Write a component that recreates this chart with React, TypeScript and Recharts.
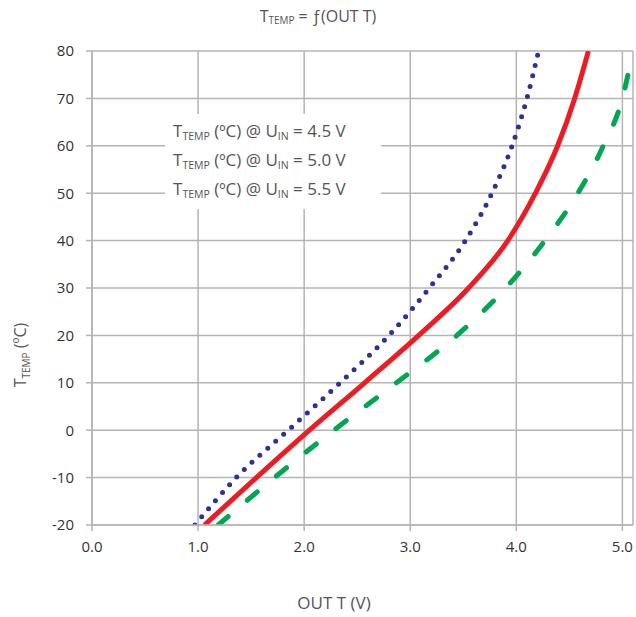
import React from "react";
import {
  LineChart,
  Line,
  XAxis,
  YAxis,
  CartesianGrid,
  Legend,
} from "recharts";

// OUT T voltage (V) at each temperature step
const tempSteps = [-20, -10, 0, 10, 20, 30, 40, 50, 60, 70, 80];
const outT45 = [0.97, 1.36, 1.85, 2.34, 2.8, 3.18, 3.52, 3.77, 3.96, 4.1, 4.21];
const outT50 = [1.06, 1.55, 2.05, 2.57, 3.08, 3.55, 3.92, 4.18, 4.39, 4.55, 4.68];
const outT55 = [1.19, 1.72, 2.28, 2.87, 3.44, 3.9, 4.27, 4.58, 4.82, 5.0, 5.1];

const supplies = ["4.5 V", "5.0 V", "5.5 V"];
const xTicks = [0, 1, 2, 3, 4, 5];
const yTicks = [-20, -10, 0, 10, 20, 30, 40, 50, 60, 70, 80];

const toPoints = (volts: number[]) =>
  volts.map((v, i) => ({ v, t: tempSteps[i] }));

const font = "'Open Sans', 'Noto Sans', sans-serif";
const grid = "#b4b4b4";
const textGrey = "#555";

const sub: React.CSSProperties = {
  fontSize: "0.62em",
  position: "relative",
  top: "0.25em",
  lineHeight: 0,
};

function LegendBox({ payload }: any) {
  return (
    <div
      style={{
        background: "#fff",
        width: 208,
        padding: "2px 0 6px 8px",
        fontFamily: font,
        fontSize: 17,
        color: textGrey,
        lineHeight: "29px",
      }}
    >
      {(payload || []).map((p: any) => (
        <div key={p.value}>
          T<span style={sub}>TEMP</span> (ºC) @ U<span style={sub}>IN</span> = {p.value}
        </div>
      ))}
    </div>
  );
}

export default function App() {
  return (
    <div style={{ position: "absolute", left: 0, top: 0, width: 636, height: 617, background: "#fff" }}>
      <LineChart
        width={636}
        height={617}
        margin={{ top: 51, right: 3, bottom: 0, left: 0 }}
      >
        <CartesianGrid stroke={grid} strokeWidth={1.5} />
        <XAxis
          dataKey="v"
          type="number"
          domain={[0, 5.1]}
          ticks={xTicks}
          tickFormatter={(v) => v.toFixed(1)}
          allowDataOverflow
          height={92}
          stroke={grid}
          strokeWidth={1.5}
          tickSize={6}
          tickMargin={10}
          tick={{ fill: "#333", fontSize: 15, fontFamily: font }}
        />
        <YAxis
          dataKey="t"
          type="number"
          domain={[-20, 80]}
          ticks={yTicks}
          allowDataOverflow
          width={92}
          stroke={grid}
          strokeWidth={1.5}
          tickSize={6}
          tickMargin={12}
          tick={{ fill: "#333", fontSize: 15, fontFamily: font }}
        />
        <Legend
          layout="horizontal"
          verticalAlign="middle"
          align="center"
          content={<LegendBox />}
          wrapperStyle={{ left: 165, top: 114, width: 210 }}
        />
        <Line
          data={toPoints(outT45)}
          dataKey="t"
          name={supplies[0]}
          type="monotone"
          stroke="#2e3192"
          strokeWidth={5}
          strokeDasharray="0 10.6"
          strokeLinecap="round"
          dot={false}
          isAnimationActive={false}
        />
        <Line
          data={toPoints(outT50)}
          dataKey="t"
          name={supplies[1]}
          type="monotone"
          stroke="#ed1c24"
          strokeWidth={5}
          dot={false}
          isAnimationActive={false}
        />
        <Line
          data={toPoints(outT55)}
          dataKey="t"
          name={supplies[2]}
          type="monotone"
          stroke="#00a651"
          strokeWidth={5}
          strokeDasharray="13 25"
          strokeLinecap="round"
          dot={false}
          isAnimationActive={false}
        />
      </LineChart>
      <div
        style={{
          position: "absolute",
          top: 5,
          left: 0,
          width: 636,
          textAlign: "center",
          fontFamily: font,
          fontSize: 16,
          color: textGrey,
        }}
      >
        T<span style={sub}>TEMP</span> = ƒ(OUT T)
      </div>
      <div
        style={{
          position: "absolute",
          top: 591,
          left: 234,
          width: 200,
          textAlign: "center",
          fontFamily: font,
          fontSize: 17,
          color: textGrey,
        }}
      >
        OUT T (V)
      </div>
      <svg
        width={40}
        height={120}
        style={{ position: "absolute", left: 0, top: 295 }}
      >
        <text
          transform="translate(26,60) rotate(-90)"
          textAnchor="middle"
          fill={textGrey}
          fontFamily={font}
          fontSize={16}
        >
          T<tspan fontSize={10} dy={4}>TEMP</tspan>
          <tspan dy={-4}> (ºC)</tspan>
        </text>
      </svg>
    </div>
  );
}
